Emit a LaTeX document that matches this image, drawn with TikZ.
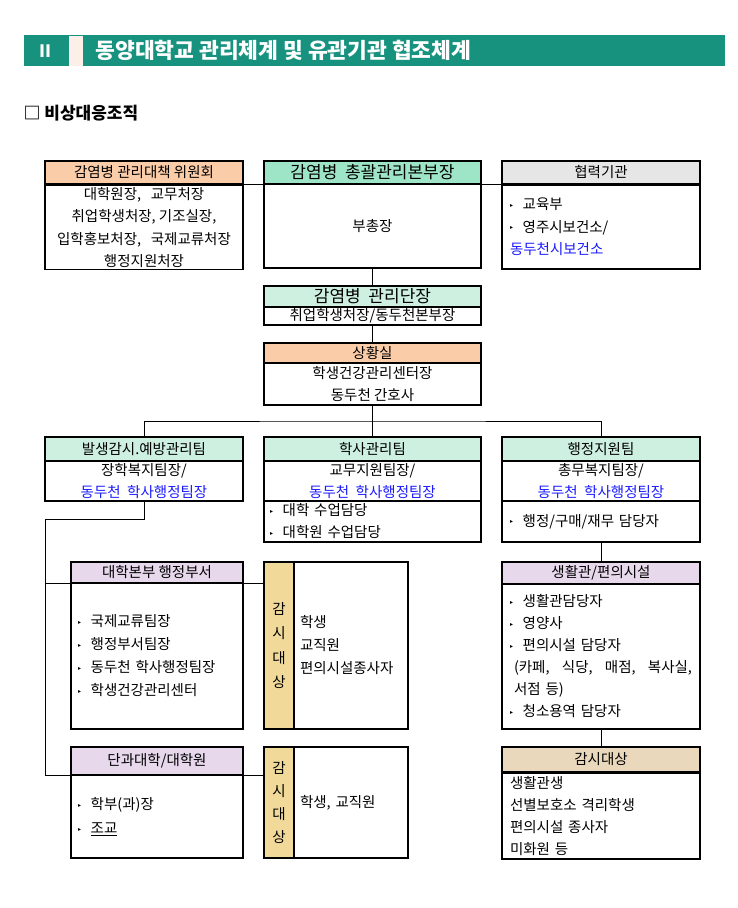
\documentclass[tikz,border=0pt]{standalone}
\usepackage{fontspec}
\setmainfont{Noto Sans CJK KR}
\newfontfamily\symfont{DejaVu Sans}
\usepackage{tikz}
\definecolor{barteal}{HTML}{17927F}
\definecolor{tagpink}{HTML}{FCEFE7}
\definecolor{salmon}{HTML}{FBCCA8}
\definecolor{mintdk}{HTML}{9EE5C8}
\definecolor{mintlt}{HTML}{CDF0E0}
\definecolor{grayhd}{HTML}{E6E6E6}
\definecolor{lav}{HTML}{E7D8EC}
\definecolor{tanbar}{HTML}{F0D999}
\definecolor{tanhd}{HTML}{EAD8BC}
\definecolor{linkblue}{HTML}{1A1AFF}
\newcommand{\tribul}{\raisebox{2.5pt}{\symfont\fontsize{6}{6}\selectfont ▸}\ \ }

\begin{document}
\begin{tikzpicture}[x=1pt,y=-1pt,
	box/.style={draw,line width=1.6pt,inner sep=0pt,align=center,font=\fontsize{14.5}{22.5}\selectfont},
	wa/.style={minimum width=198},
	wb/.style={minimum width=217},
	wc/.style={minimum width=172},
	lbody/.style={box,align=left,inner xsep=#1,text width=198-2*#1},
	lbodyc/.style={box,align=left,inner xsep=#1,text width=172-2*#1},
	lbodyr/.style={box,align=left,inner xsep=6,text width=102}]
	  \useasboundingbox (0,0) rectangle (738,908);
	  \node (bar) at (374.5,50.5) [fill=barteal,minimum width=701,minimum height=31] {};
	  \node (tag) at (76,51) [fill=tagpink,minimum width=14,minimum height=30] {};
	  \node (num) at (45,51) [text=white,font=\bfseries\fontsize{17}{17}\selectfont] {Ⅱ};
	  \node (title) at (92,50) [anchor=west,text=white,font=\bfseries\fontsize{21.5}{20}\selectfont] {동양대학교\ 관리체계\ 및\ 유관기관\ 협조체계};
	  \node (sect) at (20,113) [anchor=west,font=\bfseries\fontsize{17}{17}\selectfont] {□ 비상대응조직};
	  \node (ah) at (144,172.5) [box,wa,minimum height=23,fill=salmon] {감염병 관리대책 위원회};
	  \node (ab) at (144,227.5) [box,wa,minimum height=84] {대학원장,\ \ \ 교무처장\\취업학생처장, 기조실장,\\입학홍보처장,\ \ \ 국제교류처장\\행정지원처장};
	  \node (bh) at (372.5,172.5) [box,wb,minimum height=23,fill=mintdk,font=\fontsize{17}{17}\selectfont] {감염병\ \ 총괄관리본부장};
	  \node (bb) at (372.5,226) [box,wb,minimum height=84] {부총장};
	  \node (ch) at (601,172.5) [box,wa,minimum height=23,fill=grayhd] {협력기관};
	  \node (cb) at (601,227) [lbody=8,minimum height=84] {\tribul 교육부\\\tribul 영주시보건소/\\\textcolor{linkblue}{동두천시보건소}};
	  \node (dh) at (372.5,296.5) [box,wb,minimum height=21,fill=mintlt,font=\fontsize{17}{17}\selectfont] {감염병\ \ 관리단장};
	  \node (db) at (372.5,316) [box,wb,minimum height=18] {취업학생처장/동두천본부장};
	  \node (eh) at (372.5,353) [box,wb,minimum height=20,fill=salmon] {상황실};
	  \node (eb) at (372.5,384) [box,wb,minimum height=42] {학생건강관리센터장\\동두천 간호사};
	  \node (fh) at (144,449) [box,wa,minimum height=24,fill=mintlt] {발생감시.예방관리팀};
	  \node (fb) at (144,481) [box,wa,minimum height=40] {장학복지팀장/\\\textcolor{linkblue}{동두천\ \ 학사행정팀장}};
	  \node (gh) at (372.5,449) [box,wb,minimum height=24,fill=mintlt] {학사관리팀};
	  \node (gb) at (372.5,481) [box,wb,minimum height=40] {교무지원팀장/\\\textcolor{linkblue}{동두천\ \ 학사행정팀장}};
	  \node (gc) at (372.5,521.5) [box,align=left,inner xsep=6,text width=205,minimum height=41,font=\fontsize{14.5}{22}\selectfont] {\tribul 대학\ 수업담당\\\tribul 대학원\ 수업담당};
	  \node (hh) at (601,449) [box,wa,minimum height=24,fill=mintlt] {행정지원팀};
	  \node (hb) at (601,481) [box,wa,minimum height=40] {총무복지팀장/\\\textcolor{linkblue}{동두천\ \ 학사행정팀장}};
	  \node (hc) at (601,521.5) [lbody=8,minimum height=41] {\tribul 행정/구매/재무\ 담당자};
	  \node (ih) at (157,572.5) [box,wc,minimum height=21,fill=lav] {대학본부\ 행정부서};
	  \node (ib) at (157,656) [lbodyc=7,minimum height=146,font=\fontsize{14.5}{23}\selectfont] {\tribul 국제교류팀장\\\tribul 행정부서팀장\\\tribul 동두천\ 학사행정팀장\\\tribul 학생건강관리센터};
	  \node (ja) at (279,645.5) [box,minimum width=30,minimum height=167,fill=tanbar,font=\fontsize{14.5}{24.5}\selectfont] {감\\시\\대\\상};
	  \node (jb) at (351,645.5) [lbodyr,minimum height=167,font=\fontsize{14.5}{23}\selectfont] {학생\\교직원\\편의시설종사자};
	  \node (kh) at (157,761) [box,wc,minimum height=28,fill=lav] {단과대학/대학원};
	  \node (kb) at (157,816.5) [lbodyc=7,minimum height=83,font=\fontsize{14.5}{24}\selectfont] {\tribul 학부(과)장\\\tribul \underline{조교}};
	  \node (la) at (279,802.5) [box,minimum width=30,minimum height=111,fill=tanbar,font=\fontsize{14.5}{23}\selectfont] {감\\시\\대\\상};
	  \node (lb) at (351,802.5) [lbodyr,minimum height=111] {학생,\ 교직원};
	  \node (mh) at (601,573) [box,wa,minimum height=22,fill=lav] {생활관/편의시설};
	  \node (mb) at (601,656.5) [lbody=8,minimum height=145,font=\fontsize{14.5}{22}\selectfont] {\tribul 생활관담당자\\\tribul 영양사\\\tribul 편의시설\ 담당자\\\hspace*{4pt}(카페,\hfill 식당,\hfill 매점,\hfill 복사실,\\\hspace*{4pt}서점\ 등)\\\tribul 청소용역\ 담당자};
	  \node (nh) at (601,759.5) [box,wa,minimum height=25,fill=tanhd] {감시대상};
	  \node (nb) at (601,816) [lbody=8,minimum height=86,font=\fontsize{14.5}{22}\selectfont] {생활관생\\선별보호소\ 격리학생\\편의시설\ 종사자\\미화원\ 등};
	  \coordinate (jn) at (372.5,421);
	  \coordinate (lt) at (45,519);
	  \draw[thick] (ah.south east) -- (bh.south west);
	  \draw[thick] (bh.south east) -- (ch.south west);
	  \draw[thick] (bb.south) -- (dh.north);
	  \draw[thick] (db.south) -- (eh.north);
	  \draw[thick] (eb.south) -- (jn);
	  \draw[thick] (fh.north) |- (jn) -| (hh.north);
	  \draw[thick] (jn) -- (gh.north);
	  \draw[thick] (fb.south) |- (lt) |- (ja.west |- ih.south);
	  \draw[thick] (lt) |- (la.west |- kh.south);
	  \draw[thick] (hc.south) -- (mh.north);
	  \draw[thick] (mb.south) -- (nh.north);
	\end{tikzpicture}
\end{document}
